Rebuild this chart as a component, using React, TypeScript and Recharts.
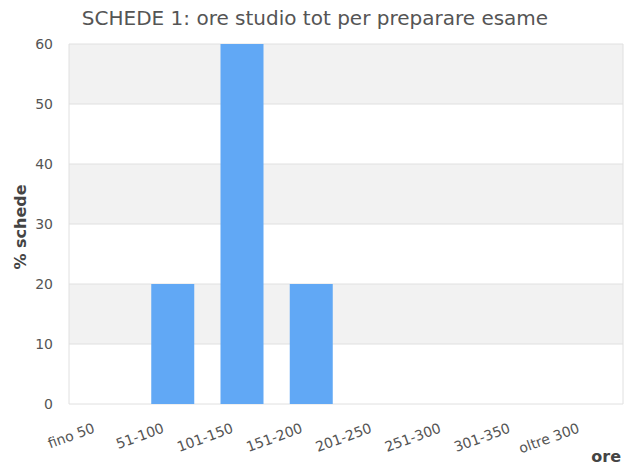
import { BarChart, Bar, XAxis, YAxis, CartesianGrid } from "recharts";

const categories = [
  "fino 50",
  "51-100",
  "101-150",
  "151-200",
  "201-250",
  "251-300",
  "301-350",
  "oltre 300",
];
const percentSchede = [0, 20, 60, 20, 0, 0, 0, 0];
const yTicks = [0, 10, 20, 30, 40, 50, 60];

const FONT = "'DejaVu Sans', sans-serif";
const TEXT = "#555";

function AngledTick({ x, y, payload }: any) {
  const tx = x - 8;
  const ty = y + 28;
  return (
    <text
      x={tx}
      y={ty}
      textAnchor="end"
      transform={`rotate(-20, ${tx}, ${ty})`}
      fill={TEXT}
      fontSize={14}
      fontFamily={FONT}
    >
      {payload.value}
    </text>
  );
}

export default function App() {
  const data = categories.map((c, i) => ({ name: c, value: percentSchede[i] }));

  return (
    <div
      style={{
        position: "absolute",
        left: 0,
        top: 0,
        width: 639,
        height: 474,
        background: "#fff",
        fontFamily: FONT,
      }}
    >
      <div
        style={{
          position: "absolute",
          left: 0,
          top: 8,
          width: 630,
          textAlign: "center",
          fontSize: 20,
          lineHeight: "20px",
          color: TEXT,
          whiteSpace: "nowrap",
        }}
      >
        SCHEDE 1: ore studio tot per preparare esame
      </div>
      <BarChart
        width={639}
        height={474}
        data={data}
        margin={{ top: 44, right: 16, bottom: 0, left: 0 }}
      >
        <CartesianGrid
          stroke="#e0e0e0"
          horizontalFill={["#f2f2f2", "#ffffff"]}
          fillOpacity={1}
          verticalCoordinatesGenerator={({ offset }: any) => [
            offset.left,
            offset.left + offset.width,
          ]}
        />
        <XAxis
          dataKey="name"
          height={70}
          axisLine={false}
          tickLine={false}
          tickSize={0}
          tickMargin={0}
          interval={0}
          tick={<AngledTick />}
        />
        <YAxis
          width={69}
          domain={[0, 60]}
          ticks={yTicks}
          axisLine={false}
          tickLine={false}
          tickSize={0}
          tickMargin={16}
          tick={{ fill: TEXT, fontSize: 14, fontFamily: FONT }}
        />
        <Bar dataKey="value" fill="#61a8f5" barSize={43} isAnimationActive={false} />
      </BarChart>
      <div
        style={{
          position: "absolute",
          left: 20,
          top: 227,
          transform: "translate(-50%, -50%) rotate(-90deg)",
          fontSize: 16,
          fontWeight: "bold",
          color: "#444",
          whiteSpace: "nowrap",
        }}
      >
        % schede
      </div>
      <div
        style={{
          position: "absolute",
          right: 18,
          top: 449,
          fontSize: 16,
          lineHeight: "16px",
          fontWeight: "bold",
          color: "#444",
        }}
      >
        ore
      </div>
    </div>
  );
}
